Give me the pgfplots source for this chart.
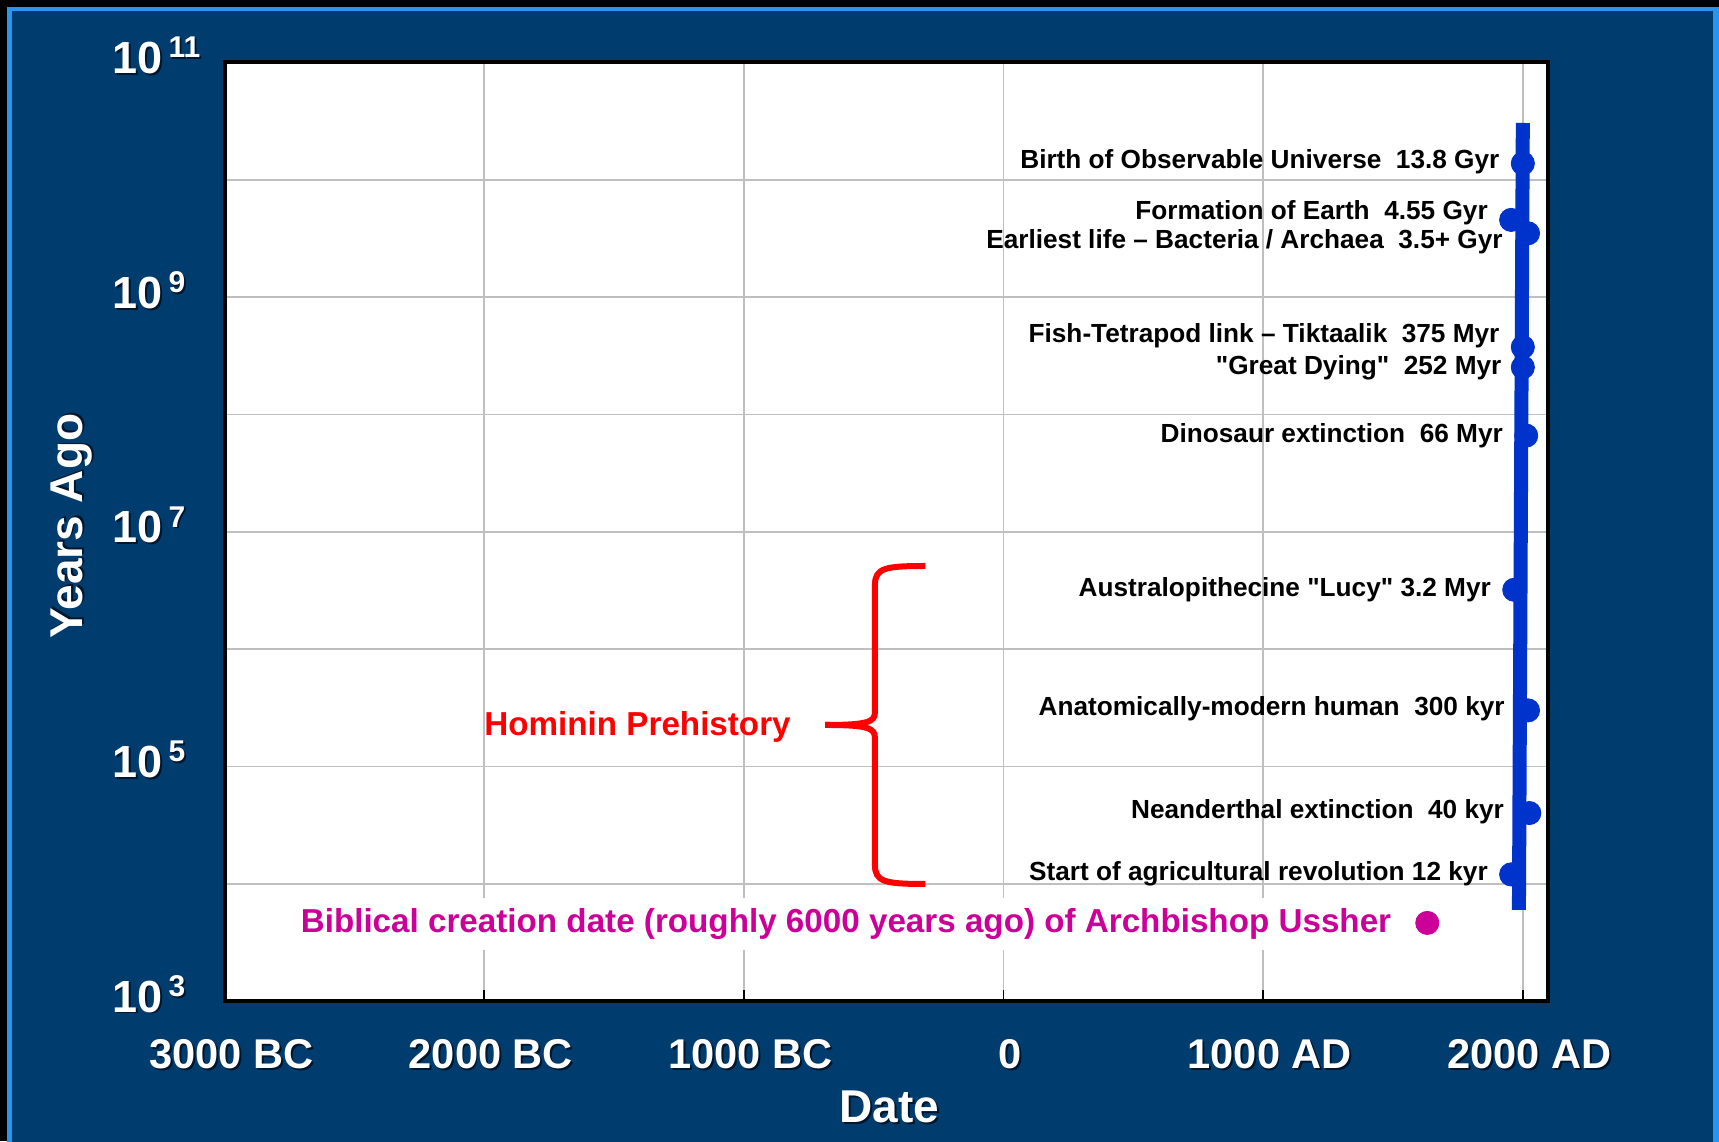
\documentclass[border=0pt]{standalone}
\usepackage{pgfplots}
\pgfplotsset{compat=1.18}
\usepackage{fontspec}
\setmainfont{Liberation Sans}
\definecolor{bgblue}{RGB}{1,60,110}
\definecolor{edgeblue}{RGB}{40,150,240}
\definecolor{evblue}{RGB}{0,51,204}
\definecolor{bibmag}{RGB}{204,0,153}
\definecolor{gridgray}{RGB}{191,191,191}
\definecolor{shadowc}{RGB}{0,22,45}
\newcommand{\sh}[1]{\leavevmode\rlap{\kern0.9pt\raisebox{-0.9pt}{\textcolor{shadowc}{#1}}}#1}
\newcommand{\ylab}[1]{\sh{\fontsize{22.5pt}{24pt}\selectfont\bfseries 10\kern3pt\raisebox{7.9pt}{\fontsize{15pt}{16pt}\selectfont #1}}}
\tikzset{ev/.style={anchor=east, inner sep=0pt, xshift=-11.5pt, font=\fontsize{13.1pt}{14pt}\selectfont\bfseries, text=black}}
\begin{document}
\begin{tikzpicture}
\useasboundingbox (0,0) rectangle (859.5pt,570.5pt);
\fill[black] (0,0) rectangle (859.5pt,570.5pt);
\fill[edgeblue] (3.5pt,-5pt) rectangle (865pt,567pt);
\fill[bgblue] (6pt,-5pt) rectangle (856.6pt,565pt);
\begin{axis}[
  at={(112.35pt,70pt)}, anchor=south west,
  scale only axis, width=661.65pt, height=469.25pt,
  xmin=-3000, xmax=2097, ymode=log, ymin=1e3, ymax=1e11,
  axis background/.style={fill=white},
  axis line style={black, line width=2pt},
  xtick={-3000,-2000,-1000,0,1000,2000},
  xticklabels={\sh{3000 BC},\sh{2000 BC},\sh{1000 BC},\sh{0},\sh{1000 AD},\sh{2000 AD}},
  ytick={1e3,1e5,1e7,1e9,1e11},
  minor ytick={1e4,1e6,1e8,1e10},
  yticklabels={\ylab{3},\ylab{5},\ylab{7},\ylab{9},\ylab{11}},
  xmajorgrids, ymajorgrids, yminorgrids,
  grid style={gridgray, line width=0.85pt},
  minor grid style={gridgray, line width=0.85pt},
  tick align=inside, xtick pos=lower,
  major tick length=5.5pt, minor tick length=0pt,
  x tick style={black, line width=0.9pt},
  y tick style={draw=none},
  xticklabel style={font=\fontsize{20.8pt}{22pt}\selectfont\bfseries, text=white, anchor=base, inner sep=0pt, yshift=-33.7pt, xshift=3.3pt},
  yticklabel style={text=white, anchor=base west, inner sep=0pt, xshift=-56.3pt, yshift=-5.55pt},
  xlabel={\sh{Date}},
  xlabel style={at={(axis description cs:0.5,0)}, anchor=base, inner sep=0pt, yshift=-60.7pt, xshift=1.5pt, font=\fontsize{23pt}{24pt}\selectfont\bfseries, text=white},
  ylabel={\sh{Years Ago}},
  ylabel style={at={([xshift=-71.1pt]axis description cs:0,0.506)}, anchor=base, inner sep=0pt, font=\fontsize{23pt}{24pt}\selectfont\bfseries, text=white},
  clip=false,
]
\addplot[evblue, line width=7pt, line cap=butt] coordinates {(2000,3.05e10) (1985,5970)};
\addplot[only marks, mark=*, mark size=5.8pt, color=evblue, mark options={draw=evblue, fill=evblue}] coordinates {
 (2000,1.38e10) (1955,4.55e9) (2020,3.5e9) (2000,3.75e8) (2000,2.52e8)
 (2013,6.6e7) (1967,3.2e6) (2020,3.0e5) (2025,4.0e4) (1955,1.2e4)};
\addplot[only marks, mark=*, mark size=5.8pt, color=bibmag, mark options={draw=bibmag, fill=bibmag}] coordinates {(1632,4630)};

\node[ev, yshift=1pt] at (axis cs:2000,1.38e10) {Birth of Observable Universe\ \ 13.8 Gyr};
\node[ev, yshift=3.75pt] at (axis cs:1955,4.55e9) {Formation of Earth\ \ 4.55 Gyr};
\node[ev, yshift=-4pt, xshift=-1pt] at (axis cs:2020,3.5e9) {Earliest life – Bacteria / Archaea\ \ 3.5+ Gyr};
\node[ev, yshift=5.75pt] at (axis cs:2000,3.75e8) {Fish-Tetrapod link – Tiktaalik\ \ 375 Myr};
\node[ev, xshift=1pt] at (axis cs:2000,2.52e8) {\textquotedbl Great Dying\textquotedbl\ \ 252 Myr};
\node[ev] at (axis cs:2013,6.6e7) {Dinosaur extinction\ \ 66 Myr};
\node[ev] at (axis cs:1967,3.2e6) {Australopithecine \textquotedbl Lucy\textquotedbl\ 3.2 Myr};
\node[ev, yshift=0.75pt] at (axis cs:2020,3.0e5) {Anatomically-modern human\ \ 300 kyr};
\node[ev, yshift=0.5pt, xshift=-1pt] at (axis cs:2025,4.0e4) {Neanderthal extinction\ \ 40 kyr};
\node[ev, yshift=0.5pt] at (axis cs:1955,1.2e4) {Start of agricultural revolution 12 kyr};

\node[anchor=base, inner xsep=4pt, inner ysep=4.5pt, text height=13pt, text depth=4pt, fill=white, text=bibmag, font=\fontsize{16.6pt}{18pt}\selectfont\bfseries] at (rel axis cs:0.4695,0.0725) {Biblical creation date (roughly 6000 years ago) of Archbishop Ussher};
\node[anchor=base, inner sep=0pt, text=red, font=\fontsize{16.6pt}{18pt}\selectfont\bfseries] at (rel axis cs:0.3120,0.2834) {Hominin Prehistory};

\draw[red, line width=3pt, line cap=butt] (rel axis cs:0.5294,0.4635) .. controls (rel axis cs:0.4991,0.4635) and (rel axis cs:0.4914,0.4614) .. (rel axis cs:0.4914,0.4433) -- (rel axis cs:0.4914,0.3079) .. controls (rel axis cs:0.4914,0.2973) and (rel axis cs:0.4860,0.2941) .. (rel axis cs:0.4537,0.2941);
\draw[red, line width=3pt, line cap=butt] (rel axis cs:0.4537,0.2941) .. controls (rel axis cs:0.4860,0.2941) and (rel axis cs:0.4914,0.2909) .. (rel axis cs:0.4914,0.2802) -- (rel axis cs:0.4914,0.1449) .. controls (rel axis cs:0.4914,0.1268) and (rel axis cs:0.4991,0.1247) .. (rel axis cs:0.5294,0.1247);
\end{axis}
\end{tikzpicture}
\end{document}
